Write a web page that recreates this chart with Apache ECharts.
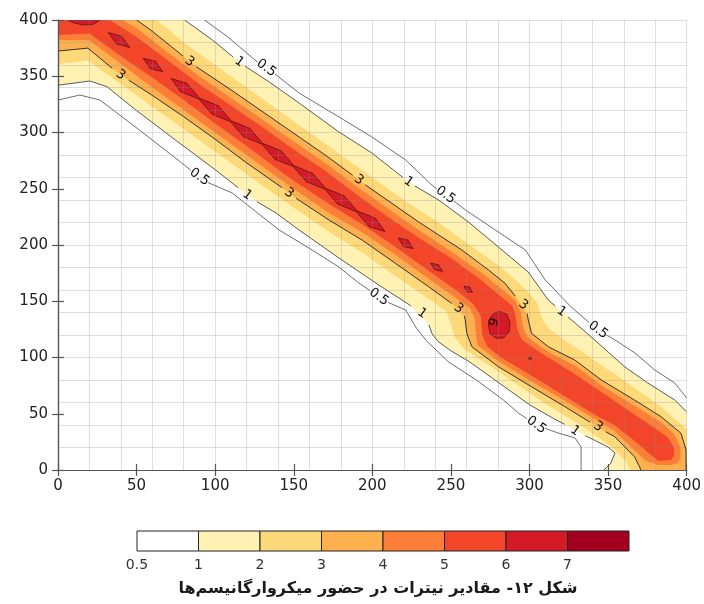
<!DOCTYPE html>
<html>
<head>
<meta charset="utf-8">
<script src="https://cdn.jsdelivr.net/npm/echarts/dist/echarts.min.js"></script>
<style>
html, body { margin: 0; padding: 0; background: #fff; }
#chart { width: 704px; height: 604px; }
</style>
</head>
<body>
<div id="chart"></div>
<script>
// contour levels and colour bins (colour bar)
const levels = ['0.5', '1', '2', '3', '4', '5', '6', '7']
const levelColors = ['#ffffff', '#fff2b3', '#fed97a', '#feb04f', '#fd7f37', '#f2452a', '#d51a27', '#a3001f']

// contour lines, [x, y]; null = gap where a label sits
const c05Upper = [[93.2, 400], [108, 385], [124, 366], [127, 362.5], null, [138, 352], [153.4, 335.1], [178.8, 313.8], [199.7, 296], [221.2, 275.6], [238, 253], [241, 250], null, [252, 239], [259.3, 231.1], [278.3, 213.3], [297.3, 195.6], [310, 168.9], [326.5, 144.9], [338, 131], null, [349, 120], [354.4, 115.6], [367.1, 104], [379.7, 88.9], [392.4, 77.3], [400, 64]]
const c05Lower = [[0, 328.9], [13.9, 333.3], [26.6, 328.9], [52, 302], [77.3, 274.5], [84.5, 266.5], null, [95.5, 255.5], [110.9, 246.2], [140.7, 213.3], [159.7, 197.3], [178.8, 180.4], [191.4, 166.2], [198.5, 159.5], null, [210, 149], [221.2, 142.2], [227.6, 127.1], [233.9, 115.6], [248.5, 96], [266.2, 80], [283.4, 62.2], [292.9, 50.7], [298.5, 45.5], null, [310, 37], [318.2, 32.9], [329, 28.4], [332.8, 20.4], [332.8, 0]]
const c1Upper = [[80.5, 400], [98.3, 382.2], [111.5, 367], null, [119, 359], [134.4, 344.9], [153.4, 326.2], [178.8, 300.4], [199.7, 281.8], [219.5, 260], null, [227, 252.5], [242.2, 240], [261.2, 220.4], [280.2, 198.2], [299.2, 176], [311.9, 151.1], [316.4, 145.7], null, [324.4, 136.1], [329, 130.7], [343.6, 112.9], [360.7, 91.6], [375.3, 77.3], [392.4, 62.2], [400, 51.6]]
const c1Lower = [[0, 342], [20.3, 345.8], [31.1, 340.7], [50, 319.5], [75, 293], [100, 267], [114.5, 251], null, [126.5, 238.5], [138.8, 228.4], [153.4, 213.3], [178.8, 188.4], [204.1, 164.4], [224.5, 146], null, [236, 129], [238, 121], [242, 114], [250, 106], [262, 96], [280, 78], [300, 58], [315, 46], [322.5, 40.5], null, [335.5, 30.5], [342, 26], [349.9, 20.4], [354.4, 15.1], [351.8, 6.2], [347.4, 0]]
const c2Upper = [[63, 400], [80, 380], [100, 360], [120, 340], [140, 320], [160, 300], [180, 280], [200, 260], [220, 240], [240, 222], [260, 202], [280, 182], [292, 168], [300, 157], [305, 148], [308, 135], [312, 126], [325, 113], [345, 94], [365, 75], [382, 58], [392, 46], [400, 36]]
const c2Lower = [[0, 361], [19, 364], [41, 342], [60, 323], [80, 303], [100, 283], [120, 263], [147, 236], [172, 212], [194, 193], [215, 172], [236, 152], [247, 141], [250, 130], [252, 119], [258, 108], [270, 97], [290, 78], [310, 59], [330, 42], [345, 28], [355, 17], [361, 8], [364, 0]]
const c3Upper = [[50, 400], [60, 390], [72, 376.5], [79.5, 368], null, [88, 358.5], [110, 338], [140, 309], [170, 280], [187.5, 262], null, [195.5, 253.5], [230, 220], [256.9, 195.6], [273.9, 177.8], [284.4, 166], [291, 154.5], null, [298.5, 139], [299.2, 133.3], [301.3, 121.5], [311.9, 109.6], [328.8, 97.8], [345.7, 80], [366.8, 62.2], [383.7, 47.4], [396.4, 32.6], [399.6, 17.8], [399.6, 0]]
const c3Lower = [[0, 372.4], [19, 375], [34.5, 357], null, [45, 346.5], [60, 333], [80, 314], [100, 294], [120, 273], [142.5, 251], null, [151.5, 241.5], [172.4, 222.2], [193.5, 204.4], [214.7, 183.7], [235.8, 162.9], [250.5, 148], null, [258.5, 137], [259.1, 133.3], [260.1, 121.5], [263.3, 109.6], [280.2, 91.8], [301.3, 74], [322.5, 56.3], [338.5, 42.5], null, [348.5, 34], [354.2, 29.6], [366.8, 11.8], [370, 2.9], [370.8, 0]]
const c4Upper = [[41, 400], [50, 393], [70, 371], [90, 350], [110, 331], [130, 311.5], [150, 292], [170, 273], [190, 252], [210, 232.5], [230, 213], [250, 194.5], [270, 175], [284, 159], [291, 151], [294.5, 140], [296, 126], [299, 118], [306, 111], [312, 105], [329, 93], [346, 75], [367, 57], [384, 42], [392, 32], [396, 20], [396, 10], [394, 6], [390, 4.5]]
const c4Lower = [[0, 382.2], [20, 382], [41, 360], [60, 340], [80, 320], [100, 300], [120, 280], [147, 253], [172, 229], [194, 211], [215, 191], [236, 170], [255, 151], [262, 144], [265, 135], [266, 120], [267, 111], [280, 97], [301, 79], [322, 62], [343, 44], [354, 35], [365, 20], [374, 8], [382, 4.5]]
const c5Upper = [[33, 400], [50, 385], [70, 364], [90, 343], [110, 324], [130, 305], [150, 285], [170, 266], [190, 245], [210, 225], [230, 206], [250, 188.5], [270, 168], [282, 154], [289, 146], [291, 138], [292, 126], [295, 116], [302, 109], [312, 100], [328, 86], [345, 70], [366, 50], [380, 37], [388, 29], [392, 20], [392, 13], [390, 9]]
const c5Lower = [[0, 386.7], [20, 388], [41, 367], [60, 349], [80, 329], [100, 308], [120, 288], [147, 260], [172, 237], [194, 218], [215, 198], [236, 177], [255, 158], [264, 148], [269, 137], [270, 120], [273, 110], [281, 101], [301, 84], [322, 66], [343, 48], [354, 40], [366, 27], [376, 15], [382, 8]]

// level 6 spots along the ridge
const spotTop = [[6, 400], [10, 397.5], [16, 395.5], [22, 396], [27, 400]]
const spotA = [[32, 388.8], [40.5, 385.6], [45.6, 375.6], [37.1, 378.9]]
const spotB = [[54.2, 365.9], [62.1, 363.3], [66.6, 354.1], [58.7, 356.7]]
const spotChain = [[72, 348], [82, 343.7], [90.2, 330.4], [102, 323.7], [110.2, 310.4], [122, 303.7], [130.2, 290.4], [142, 283.7], [150.2, 270.4], [162, 263.7], [170.2, 250.4], [182, 243.7], [190.2, 230.4], [202, 223.7], [208, 212], [198, 216.3], [189.8, 229.6], [178, 236.3], [169.8, 249.6], [158, 256.3], [149.8, 269.6], [138, 276.3], [129.8, 289.6], [118, 296.3], [109.8, 309.6], [98, 316.3], [89.8, 329.6], [78, 336.3]]
const spotC = [[216.5, 206.2], [222.6, 204.4], [225.9, 196.8], [219.8, 198.6]]
const spotD = [[237.1, 183.8], [242.1, 182.5], [244.7, 176.6], [239.7, 177.9]]
const spotE = [[258.3, 163.2], [261.9, 162.6], [263.7, 158], [260.1, 158.6]]
const spotBlob = [[281.3, 140.7], [285.5, 138.5], [287.6, 131], [287, 123], [283.5, 117.5], [279, 117], [275, 121], [273.9, 129], [275.5, 136.5], [278, 140]]
const spotDot = [[299.5, 100.3], [301.2, 100], [301.2, 98.5], [299.5, 98.6]]

// contour labels
const labelText = ['0.5', '0.5', '0.5', '0.5', '0.5', '0.5', '1', '1', '1', '1', '1', '1', '3', '3', '3', '3', '3', '3', '3', '6']
const labelPos = [[132.5, 357.3], [246.6, 244.4], [343.6, 124.4], [90, 260.4], [204.1, 153.8], [304.3, 40],
  [115.4, 362.7], [223.1, 256], [320.4, 140.7], [120.4, 244.4], [231.6, 139.3], [329, 34.7],
  [83.7, 363], [191.4, 257.8], [296, 146.7], [39.8, 351.1], [147.1, 246], [254.8, 143.7], [343.6, 38.5],
  [276, 132]]

const axisTicks = [0, 50, 100, 150, 200, 250, 300, 350, 400]
const title = 'شکل ۱۲- مقادیر نیترات در حضور میکروارگانیسم‌ها'

const solid = a => a.filter(p => p)
const band = (up, low, corner) => solid(up).concat(corner, solid(low).slice().reverse(), [[0, 400]])

function fillSeries (poly, color, z, stroke) {
  return {
    type: 'custom',
    coordinateSystem: 'cartesian2d',
    silent: true,
    clip: true,
    z: z,
    data: poly,
    renderItem (params, api) {
      if (params.dataIndex !== 0) return null
      return {
        type: 'polygon',
        shape: { points: poly.map(p => api.coord(p)) },
        style: { fill: color, stroke: stroke || null, lineWidth: stroke ? 0.8 : 0 }
      }
    }
  }
}

function lineSeries (line, color) {
  const parts = [[]]
  line.forEach(p => { if (p) parts[parts.length - 1].push(p); else parts.push([]) })
  return {
    type: 'custom',
    coordinateSystem: 'cartesian2d',
    silent: true,
    clip: true,
    z: 6,
    data: solid(line),
    renderItem (params, api) {
      if (params.dataIndex !== 0) return null
      return {
        type: 'group',
        children: parts.map(part => ({
          type: 'polyline',
          shape: { points: part.map(p => api.coord(p)) },
          style: { stroke: color, lineWidth: 1, fill: null }
        }))
      }
    }
  }
}

const chart = echarts.init(document.getElementById('chart'))

const series = [
  fillSeries(band(c1Upper, c1Lower, [[400, 0]]), levelColors[1], 2),
  fillSeries(band(c2Upper, c2Lower, [[400, 0]]), levelColors[2], 2),
  fillSeries(band(c3Upper, c3Lower, []), levelColors[3], 2),
  fillSeries(band(c4Upper, c4Lower, []), levelColors[4], 2),
  fillSeries(band(c5Upper, c5Lower, []), levelColors[5], 2)
]
;[spotTop, spotA, spotB, spotChain, spotC, spotD, spotE, spotBlob, spotDot].forEach(s => {
  series.push(fillSeries(s, levelColors[6], 3, '#5c1414'))
})
series.push(lineSeries(c05Upper, '#6e6e6e'), lineSeries(c05Lower, '#6e6e6e'),
  lineSeries(c1Upper, '#5a5a5a'), lineSeries(c1Lower, '#5a5a5a'),
  lineSeries(c3Upper, '#333333'), lineSeries(c3Lower, '#333333'))

// contour labels
series.push({
  type: 'custom',
  coordinateSystem: 'cartesian2d',
  silent: true,
  z: 7,
  data: labelPos,
  renderItem (params, api) {
    const p = api.coord([api.value(0), api.value(1)])
    const t = labelText[params.dataIndex]
    return {
      type: 'text',
      x: p[0],
      y: p[1],
      rotation: t === '6' ? -1.9 : -0.62,
      style: { text: t, fontSize: 13, fontFamily: 'DejaVu Sans', fill: '#111', align: 'center', verticalAlign: 'middle' }
    }
  }
})

// colour bar
series.push({
  type: 'custom',
  coordinateSystem: 'cartesian2d',
  xAxisIndex: 3,
  yAxisIndex: 3,
  silent: true,
  data: levelColors.map((c, i) => [i, 0]),
  renderItem (params, api) {
    const i = api.value(0)
    const a = api.coord([i, 1])
    const b = api.coord([i + 1, 0])
    return {
      type: 'rect',
      shape: { x: a[0], y: a[1], width: b[0] - a[0], height: b[1] - a[1] },
      style: { fill: levelColors[i], stroke: '#222', lineWidth: 1 }
    }
  }
})

const axisStyle = { color: '#555', width: 1.2 }
const labelFont = { fontSize: 15, color: '#222', fontFamily: 'DejaVu Sans' }

chart.setOption({
  animation: false,
  grid: [
    { left: 58, right: 15, top: 20, bottom: 134 },
    { left: 137, top: 531, width: 492, height: 20 }
  ],
  xAxis: [
    { gridIndex: 0, type: 'value', min: 0, max: 400, interval: 50, position: 'bottom', z: 8,
      axisLine: { show: true, lineStyle: axisStyle }, axisTick: { show: true, length: 6, lineStyle: axisStyle },
      axisLabel: Object.assign({ margin: 9, formatter: v => axisTicks.includes(v) ? String(v) : '' }, labelFont),
      splitLine: { show: false } },
    { gridIndex: 0, type: 'value', min: 0, max: 400, interval: 50, position: 'top', z: 8,
      axisLine: { show: true, lineStyle: axisStyle }, axisTick: { show: true, length: 6, lineStyle: axisStyle },
      axisLabel: { show: false }, splitLine: { show: false } },
    { gridIndex: 0, type: 'value', min: 0, max: 400, interval: 20, position: 'bottom', z: 5,
      axisLine: { show: false }, axisTick: { show: false }, axisLabel: { show: false },
      splitLine: { show: true, lineStyle: { color: 'rgba(140,140,140,0.28)', width: 1 } } },
    { gridIndex: 1, type: 'value', min: 0, max: 8, interval: 1,
      axisLine: { show: false }, axisTick: { show: false }, splitLine: { show: false },
      axisLabel: { margin: 7, fontSize: 14, color: '#333', fontFamily: 'DejaVu Sans', formatter: v => levels[v] || '' } }
  ],
  yAxis: [
    { gridIndex: 0, type: 'value', min: 0, max: 400, interval: 50, position: 'left', z: 8,
      axisLine: { show: true, lineStyle: axisStyle }, axisTick: { show: true, length: 6, lineStyle: axisStyle },
      axisLabel: Object.assign({ margin: 10 }, labelFont),
      splitLine: { show: false } },
    { gridIndex: 0, type: 'value', min: 0, max: 400, interval: 50, position: 'right', z: 8,
      axisLine: { show: true, lineStyle: axisStyle }, axisTick: { show: true, length: 6, lineStyle: axisStyle },
      axisLabel: { show: false }, splitLine: { show: false } },
    { gridIndex: 0, type: 'value', min: 0, max: 400, interval: 20, position: 'left', z: 5,
      axisLine: { show: false }, axisTick: { show: false }, axisLabel: { show: false },
      splitLine: { show: true, lineStyle: { color: 'rgba(140,140,140,0.28)', width: 1 } } },
    { gridIndex: 1, type: 'value', min: 0, max: 1, show: false }
  ],
  graphic: [{
    type: 'text',
    x: 378,
    y: 589,
    style: { text: title, fontSize: 16, fontWeight: 'bold', fontFamily: 'DejaVu Sans', fill: '#1a1a1a', align: 'center', verticalAlign: 'middle' }
  }],
  series: series
})
</script>
</body>
</html>
